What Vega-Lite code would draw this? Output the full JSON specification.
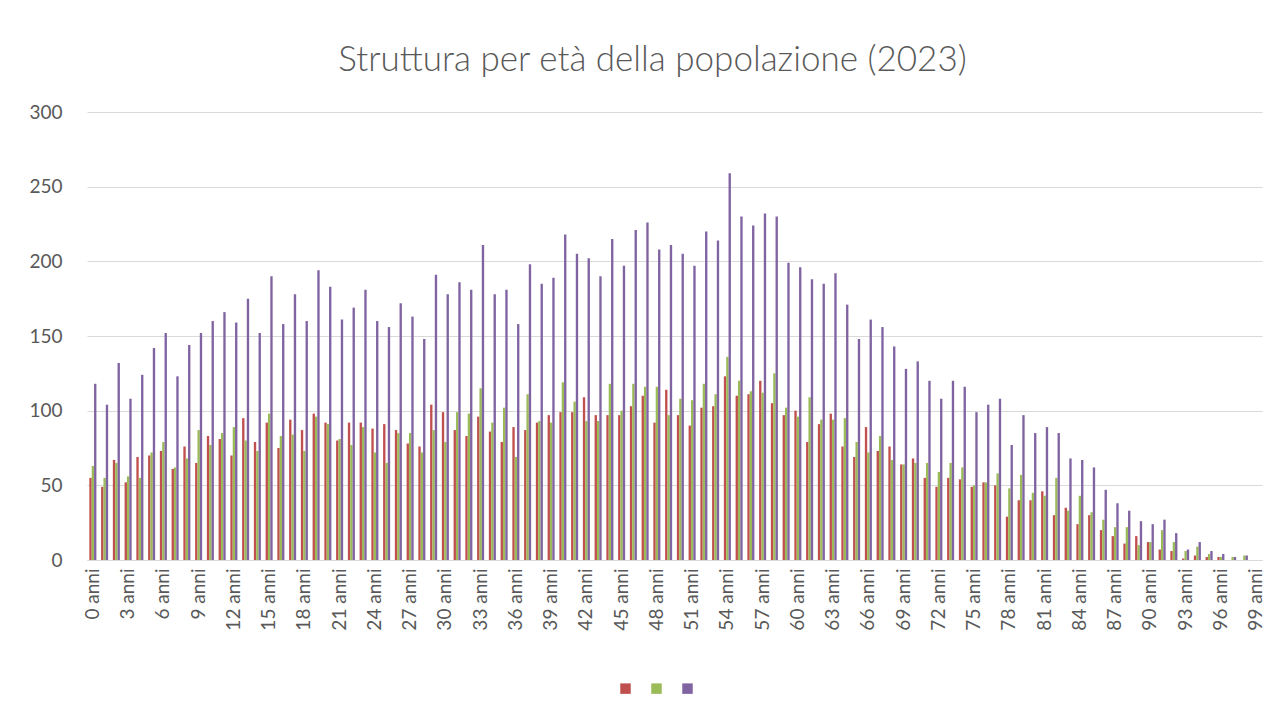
{
 "$schema": "https://vega.github.io/schema/vega-lite/v6.json",
 "width": 1175,
 "height": 448,
 "autosize": {"type": "none"},
 "padding": {"left": 87, "top": 112, "right": 22, "bottom": 156},
 "background": "white",
 "title": {"text": "Struttura per età della popolazione (2023)", "font": "Lato", "fontWeight": 300, "fontSize": 35, "color": "#595959", "anchor": "middle", "dx": -22, "offset": 25},
 "data": {"values": [
{"eta":"0 anni","serie":"Maschi","valore":55},{"eta":"0 anni","serie":"Femmine","valore":63},{"eta":"0 anni","serie":"Totale","valore":118},
{"eta":"1 anni","serie":"Maschi","valore":49},{"eta":"1 anni","serie":"Femmine","valore":55},{"eta":"1 anni","serie":"Totale","valore":104},
{"eta":"2 anni","serie":"Maschi","valore":67},{"eta":"2 anni","serie":"Femmine","valore":65},{"eta":"2 anni","serie":"Totale","valore":132},
{"eta":"3 anni","serie":"Maschi","valore":52},{"eta":"3 anni","serie":"Femmine","valore":56},{"eta":"3 anni","serie":"Totale","valore":108},
{"eta":"4 anni","serie":"Maschi","valore":69},{"eta":"4 anni","serie":"Femmine","valore":55},{"eta":"4 anni","serie":"Totale","valore":124},
{"eta":"5 anni","serie":"Maschi","valore":70},{"eta":"5 anni","serie":"Femmine","valore":72},{"eta":"5 anni","serie":"Totale","valore":142},
{"eta":"6 anni","serie":"Maschi","valore":73},{"eta":"6 anni","serie":"Femmine","valore":79},{"eta":"6 anni","serie":"Totale","valore":152},
{"eta":"7 anni","serie":"Maschi","valore":61},{"eta":"7 anni","serie":"Femmine","valore":62},{"eta":"7 anni","serie":"Totale","valore":123},
{"eta":"8 anni","serie":"Maschi","valore":76},{"eta":"8 anni","serie":"Femmine","valore":68},{"eta":"8 anni","serie":"Totale","valore":144},
{"eta":"9 anni","serie":"Maschi","valore":65},{"eta":"9 anni","serie":"Femmine","valore":87},{"eta":"9 anni","serie":"Totale","valore":152},
{"eta":"10 anni","serie":"Maschi","valore":83},{"eta":"10 anni","serie":"Femmine","valore":77},{"eta":"10 anni","serie":"Totale","valore":160},
{"eta":"11 anni","serie":"Maschi","valore":81},{"eta":"11 anni","serie":"Femmine","valore":85},{"eta":"11 anni","serie":"Totale","valore":166},
{"eta":"12 anni","serie":"Maschi","valore":70},{"eta":"12 anni","serie":"Femmine","valore":89},{"eta":"12 anni","serie":"Totale","valore":159},
{"eta":"13 anni","serie":"Maschi","valore":95},{"eta":"13 anni","serie":"Femmine","valore":80},{"eta":"13 anni","serie":"Totale","valore":175},
{"eta":"14 anni","serie":"Maschi","valore":79},{"eta":"14 anni","serie":"Femmine","valore":73},{"eta":"14 anni","serie":"Totale","valore":152},
{"eta":"15 anni","serie":"Maschi","valore":92},{"eta":"15 anni","serie":"Femmine","valore":98},{"eta":"15 anni","serie":"Totale","valore":190},
{"eta":"16 anni","serie":"Maschi","valore":75},{"eta":"16 anni","serie":"Femmine","valore":83},{"eta":"16 anni","serie":"Totale","valore":158},
{"eta":"17 anni","serie":"Maschi","valore":94},{"eta":"17 anni","serie":"Femmine","valore":84},{"eta":"17 anni","serie":"Totale","valore":178},
{"eta":"18 anni","serie":"Maschi","valore":87},{"eta":"18 anni","serie":"Femmine","valore":73},{"eta":"18 anni","serie":"Totale","valore":160},
{"eta":"19 anni","serie":"Maschi","valore":98},{"eta":"19 anni","serie":"Femmine","valore":96},{"eta":"19 anni","serie":"Totale","valore":194},
{"eta":"20 anni","serie":"Maschi","valore":92},{"eta":"20 anni","serie":"Femmine","valore":91},{"eta":"20 anni","serie":"Totale","valore":183},
{"eta":"21 anni","serie":"Maschi","valore":80},{"eta":"21 anni","serie":"Femmine","valore":81},{"eta":"21 anni","serie":"Totale","valore":161},
{"eta":"22 anni","serie":"Maschi","valore":92},{"eta":"22 anni","serie":"Femmine","valore":77},{"eta":"22 anni","serie":"Totale","valore":169},
{"eta":"23 anni","serie":"Maschi","valore":92},{"eta":"23 anni","serie":"Femmine","valore":89},{"eta":"23 anni","serie":"Totale","valore":181},
{"eta":"24 anni","serie":"Maschi","valore":88},{"eta":"24 anni","serie":"Femmine","valore":72},{"eta":"24 anni","serie":"Totale","valore":160},
{"eta":"25 anni","serie":"Maschi","valore":91},{"eta":"25 anni","serie":"Femmine","valore":65},{"eta":"25 anni","serie":"Totale","valore":156},
{"eta":"26 anni","serie":"Maschi","valore":87},{"eta":"26 anni","serie":"Femmine","valore":85},{"eta":"26 anni","serie":"Totale","valore":172},
{"eta":"27 anni","serie":"Maschi","valore":78},{"eta":"27 anni","serie":"Femmine","valore":85},{"eta":"27 anni","serie":"Totale","valore":163},
{"eta":"28 anni","serie":"Maschi","valore":76},{"eta":"28 anni","serie":"Femmine","valore":72},{"eta":"28 anni","serie":"Totale","valore":148},
{"eta":"29 anni","serie":"Maschi","valore":104},{"eta":"29 anni","serie":"Femmine","valore":87},{"eta":"29 anni","serie":"Totale","valore":191},
{"eta":"30 anni","serie":"Maschi","valore":99},{"eta":"30 anni","serie":"Femmine","valore":79},{"eta":"30 anni","serie":"Totale","valore":178},
{"eta":"31 anni","serie":"Maschi","valore":87},{"eta":"31 anni","serie":"Femmine","valore":99},{"eta":"31 anni","serie":"Totale","valore":186},
{"eta":"32 anni","serie":"Maschi","valore":83},{"eta":"32 anni","serie":"Femmine","valore":98},{"eta":"32 anni","serie":"Totale","valore":181},
{"eta":"33 anni","serie":"Maschi","valore":96},{"eta":"33 anni","serie":"Femmine","valore":115},{"eta":"33 anni","serie":"Totale","valore":211},
{"eta":"34 anni","serie":"Maschi","valore":86},{"eta":"34 anni","serie":"Femmine","valore":92},{"eta":"34 anni","serie":"Totale","valore":178},
{"eta":"35 anni","serie":"Maschi","valore":79},{"eta":"35 anni","serie":"Femmine","valore":102},{"eta":"35 anni","serie":"Totale","valore":181},
{"eta":"36 anni","serie":"Maschi","valore":89},{"eta":"36 anni","serie":"Femmine","valore":69},{"eta":"36 anni","serie":"Totale","valore":158},
{"eta":"37 anni","serie":"Maschi","valore":87},{"eta":"37 anni","serie":"Femmine","valore":111},{"eta":"37 anni","serie":"Totale","valore":198},
{"eta":"38 anni","serie":"Maschi","valore":92},{"eta":"38 anni","serie":"Femmine","valore":93},{"eta":"38 anni","serie":"Totale","valore":185},
{"eta":"39 anni","serie":"Maschi","valore":97},{"eta":"39 anni","serie":"Femmine","valore":92},{"eta":"39 anni","serie":"Totale","valore":189},
{"eta":"40 anni","serie":"Maschi","valore":99},{"eta":"40 anni","serie":"Femmine","valore":119},{"eta":"40 anni","serie":"Totale","valore":218},
{"eta":"41 anni","serie":"Maschi","valore":99},{"eta":"41 anni","serie":"Femmine","valore":106},{"eta":"41 anni","serie":"Totale","valore":205},
{"eta":"42 anni","serie":"Maschi","valore":109},{"eta":"42 anni","serie":"Femmine","valore":93},{"eta":"42 anni","serie":"Totale","valore":202},
{"eta":"43 anni","serie":"Maschi","valore":97},{"eta":"43 anni","serie":"Femmine","valore":93},{"eta":"43 anni","serie":"Totale","valore":190},
{"eta":"44 anni","serie":"Maschi","valore":97},{"eta":"44 anni","serie":"Femmine","valore":118},{"eta":"44 anni","serie":"Totale","valore":215},
{"eta":"45 anni","serie":"Maschi","valore":97},{"eta":"45 anni","serie":"Femmine","valore":100},{"eta":"45 anni","serie":"Totale","valore":197},
{"eta":"46 anni","serie":"Maschi","valore":103},{"eta":"46 anni","serie":"Femmine","valore":118},{"eta":"46 anni","serie":"Totale","valore":221},
{"eta":"47 anni","serie":"Maschi","valore":110},{"eta":"47 anni","serie":"Femmine","valore":116},{"eta":"47 anni","serie":"Totale","valore":226},
{"eta":"48 anni","serie":"Maschi","valore":92},{"eta":"48 anni","serie":"Femmine","valore":116},{"eta":"48 anni","serie":"Totale","valore":208},
{"eta":"49 anni","serie":"Maschi","valore":114},{"eta":"49 anni","serie":"Femmine","valore":97},{"eta":"49 anni","serie":"Totale","valore":211},
{"eta":"50 anni","serie":"Maschi","valore":97},{"eta":"50 anni","serie":"Femmine","valore":108},{"eta":"50 anni","serie":"Totale","valore":205},
{"eta":"51 anni","serie":"Maschi","valore":90},{"eta":"51 anni","serie":"Femmine","valore":107},{"eta":"51 anni","serie":"Totale","valore":197},
{"eta":"52 anni","serie":"Maschi","valore":102},{"eta":"52 anni","serie":"Femmine","valore":118},{"eta":"52 anni","serie":"Totale","valore":220},
{"eta":"53 anni","serie":"Maschi","valore":103},{"eta":"53 anni","serie":"Femmine","valore":111},{"eta":"53 anni","serie":"Totale","valore":214},
{"eta":"54 anni","serie":"Maschi","valore":123},{"eta":"54 anni","serie":"Femmine","valore":136},{"eta":"54 anni","serie":"Totale","valore":259},
{"eta":"55 anni","serie":"Maschi","valore":110},{"eta":"55 anni","serie":"Femmine","valore":120},{"eta":"55 anni","serie":"Totale","valore":230},
{"eta":"56 anni","serie":"Maschi","valore":111},{"eta":"56 anni","serie":"Femmine","valore":113},{"eta":"56 anni","serie":"Totale","valore":224},
{"eta":"57 anni","serie":"Maschi","valore":120},{"eta":"57 anni","serie":"Femmine","valore":112},{"eta":"57 anni","serie":"Totale","valore":232},
{"eta":"58 anni","serie":"Maschi","valore":105},{"eta":"58 anni","serie":"Femmine","valore":125},{"eta":"58 anni","serie":"Totale","valore":230},
{"eta":"59 anni","serie":"Maschi","valore":97},{"eta":"59 anni","serie":"Femmine","valore":102},{"eta":"59 anni","serie":"Totale","valore":199},
{"eta":"60 anni","serie":"Maschi","valore":100},{"eta":"60 anni","serie":"Femmine","valore":96},{"eta":"60 anni","serie":"Totale","valore":196},
{"eta":"61 anni","serie":"Maschi","valore":79},{"eta":"61 anni","serie":"Femmine","valore":109},{"eta":"61 anni","serie":"Totale","valore":188},
{"eta":"62 anni","serie":"Maschi","valore":91},{"eta":"62 anni","serie":"Femmine","valore":94},{"eta":"62 anni","serie":"Totale","valore":185},
{"eta":"63 anni","serie":"Maschi","valore":98},{"eta":"63 anni","serie":"Femmine","valore":94},{"eta":"63 anni","serie":"Totale","valore":192},
{"eta":"64 anni","serie":"Maschi","valore":76},{"eta":"64 anni","serie":"Femmine","valore":95},{"eta":"64 anni","serie":"Totale","valore":171},
{"eta":"65 anni","serie":"Maschi","valore":69},{"eta":"65 anni","serie":"Femmine","valore":79},{"eta":"65 anni","serie":"Totale","valore":148},
{"eta":"66 anni","serie":"Maschi","valore":89},{"eta":"66 anni","serie":"Femmine","valore":72},{"eta":"66 anni","serie":"Totale","valore":161},
{"eta":"67 anni","serie":"Maschi","valore":73},{"eta":"67 anni","serie":"Femmine","valore":83},{"eta":"67 anni","serie":"Totale","valore":156},
{"eta":"68 anni","serie":"Maschi","valore":76},{"eta":"68 anni","serie":"Femmine","valore":67},{"eta":"68 anni","serie":"Totale","valore":143},
{"eta":"69 anni","serie":"Maschi","valore":64},{"eta":"69 anni","serie":"Femmine","valore":64},{"eta":"69 anni","serie":"Totale","valore":128},
{"eta":"70 anni","serie":"Maschi","valore":68},{"eta":"70 anni","serie":"Femmine","valore":65},{"eta":"70 anni","serie":"Totale","valore":133},
{"eta":"71 anni","serie":"Maschi","valore":55},{"eta":"71 anni","serie":"Femmine","valore":65},{"eta":"71 anni","serie":"Totale","valore":120},
{"eta":"72 anni","serie":"Maschi","valore":49},{"eta":"72 anni","serie":"Femmine","valore":59},{"eta":"72 anni","serie":"Totale","valore":108},
{"eta":"73 anni","serie":"Maschi","valore":55},{"eta":"73 anni","serie":"Femmine","valore":65},{"eta":"73 anni","serie":"Totale","valore":120},
{"eta":"74 anni","serie":"Maschi","valore":54},{"eta":"74 anni","serie":"Femmine","valore":62},{"eta":"74 anni","serie":"Totale","valore":116},
{"eta":"75 anni","serie":"Maschi","valore":49},{"eta":"75 anni","serie":"Femmine","valore":50},{"eta":"75 anni","serie":"Totale","valore":99},
{"eta":"76 anni","serie":"Maschi","valore":52},{"eta":"76 anni","serie":"Femmine","valore":52},{"eta":"76 anni","serie":"Totale","valore":104},
{"eta":"77 anni","serie":"Maschi","valore":50},{"eta":"77 anni","serie":"Femmine","valore":58},{"eta":"77 anni","serie":"Totale","valore":108},
{"eta":"78 anni","serie":"Maschi","valore":29},{"eta":"78 anni","serie":"Femmine","valore":48},{"eta":"78 anni","serie":"Totale","valore":77},
{"eta":"79 anni","serie":"Maschi","valore":40},{"eta":"79 anni","serie":"Femmine","valore":57},{"eta":"79 anni","serie":"Totale","valore":97},
{"eta":"80 anni","serie":"Maschi","valore":40},{"eta":"80 anni","serie":"Femmine","valore":45},{"eta":"80 anni","serie":"Totale","valore":85},
{"eta":"81 anni","serie":"Maschi","valore":46},{"eta":"81 anni","serie":"Femmine","valore":43},{"eta":"81 anni","serie":"Totale","valore":89},
{"eta":"82 anni","serie":"Maschi","valore":30},{"eta":"82 anni","serie":"Femmine","valore":55},{"eta":"82 anni","serie":"Totale","valore":85},
{"eta":"83 anni","serie":"Maschi","valore":35},{"eta":"83 anni","serie":"Femmine","valore":33},{"eta":"83 anni","serie":"Totale","valore":68},
{"eta":"84 anni","serie":"Maschi","valore":24},{"eta":"84 anni","serie":"Femmine","valore":43},{"eta":"84 anni","serie":"Totale","valore":67},
{"eta":"85 anni","serie":"Maschi","valore":30},{"eta":"85 anni","serie":"Femmine","valore":32},{"eta":"85 anni","serie":"Totale","valore":62},
{"eta":"86 anni","serie":"Maschi","valore":20},{"eta":"86 anni","serie":"Femmine","valore":27},{"eta":"86 anni","serie":"Totale","valore":47},
{"eta":"87 anni","serie":"Maschi","valore":16},{"eta":"87 anni","serie":"Femmine","valore":22},{"eta":"87 anni","serie":"Totale","valore":38},
{"eta":"88 anni","serie":"Maschi","valore":11},{"eta":"88 anni","serie":"Femmine","valore":22},{"eta":"88 anni","serie":"Totale","valore":33},
{"eta":"89 anni","serie":"Maschi","valore":16},{"eta":"89 anni","serie":"Femmine","valore":10},{"eta":"89 anni","serie":"Totale","valore":26},
{"eta":"90 anni","serie":"Maschi","valore":12},{"eta":"90 anni","serie":"Femmine","valore":12},{"eta":"90 anni","serie":"Totale","valore":24},
{"eta":"91 anni","serie":"Maschi","valore":7},{"eta":"91 anni","serie":"Femmine","valore":20},{"eta":"91 anni","serie":"Totale","valore":27},
{"eta":"92 anni","serie":"Maschi","valore":6},{"eta":"92 anni","serie":"Femmine","valore":12},{"eta":"92 anni","serie":"Totale","valore":18},
{"eta":"93 anni","serie":"Maschi","valore":1},{"eta":"93 anni","serie":"Femmine","valore":6},{"eta":"93 anni","serie":"Totale","valore":7},
{"eta":"94 anni","serie":"Maschi","valore":3},{"eta":"94 anni","serie":"Femmine","valore":9},{"eta":"94 anni","serie":"Totale","valore":12},
{"eta":"95 anni","serie":"Maschi","valore":2},{"eta":"95 anni","serie":"Femmine","valore":4},{"eta":"95 anni","serie":"Totale","valore":6},
{"eta":"96 anni","serie":"Maschi","valore":2},{"eta":"96 anni","serie":"Femmine","valore":2},{"eta":"96 anni","serie":"Totale","valore":4},
{"eta":"97 anni","serie":"Maschi","valore":0},{"eta":"97 anni","serie":"Femmine","valore":2},{"eta":"97 anni","serie":"Totale","valore":2},
{"eta":"98 anni","serie":"Maschi","valore":0},{"eta":"98 anni","serie":"Femmine","valore":3},{"eta":"98 anni","serie":"Totale","valore":3},
{"eta":"99 anni","serie":"Maschi","valore":0},{"eta":"99 anni","serie":"Femmine","valore":0},{"eta":"99 anni","serie":"Totale","valore":0}
 ]},
 "mark": {"type": "bar"},
 "encoding": {
  "x": {"field": "eta", "type": "nominal", "sort": null,
        "scale": {"paddingInner": 0.4, "paddingOuter": 0.2},
        "axis": {"title": null, "values": ["0 anni","3 anni","6 anni","9 anni","12 anni","15 anni","18 anni","21 anni","24 anni","27 anni","30 anni","33 anni","36 anni","39 anni","42 anni","45 anni","48 anni","51 anni","54 anni","57 anni","60 anni","63 anni","66 anni","69 anni","72 anni","75 anni","78 anni","81 anni","84 anni","87 anni","90 anni","93 anni","96 anni","99 anni"],
                 "labelAngle": -90, "labelFont": "Lato", "labelFontSize": 19, "labelColor": "#595959", "labelPadding": 8,
                 "ticks": false, "domainColor": "#D9D9D9", "domainWidth": 1, "grid": false}},
  "xOffset": {"field": "serie", "type": "nominal", "sort": ["Maschi","Femmine","Totale"], "scale": {"paddingInner": 0, "paddingOuter": 0}},
  "y": {"field": "valore", "type": "quantitative",
        "scale": {"domain": [0, 300], "nice": false},
        "axis": {"title": null, "values": [0,50,100,150,200,250,300], "grid": true, "gridColor": "#D9D9D9", "domain": false, "ticks": false,
                 "labelFont": "Lato", "labelFontSize": 19, "labelColor": "#595959", "labelPadding": 25}},
  "color": {"field": "serie", "type": "nominal",
            "scale": {"domain": ["Maschi","Femmine","Totale"], "range": ["#C0504D","#9BBB59","#8064A2"]},
            "legend": {"orient": "none", "legendX": 533, "legendY": 571, "direction": "horizontal", "title": null,
                       "labelExpr": "''", "symbolType": "square", "symbolSize": 110, "labelOffset": 0, "columnPadding": 20, "symbolStrokeWidth": 0}}
 },
 "config": {"view": {"stroke": null}}
}
